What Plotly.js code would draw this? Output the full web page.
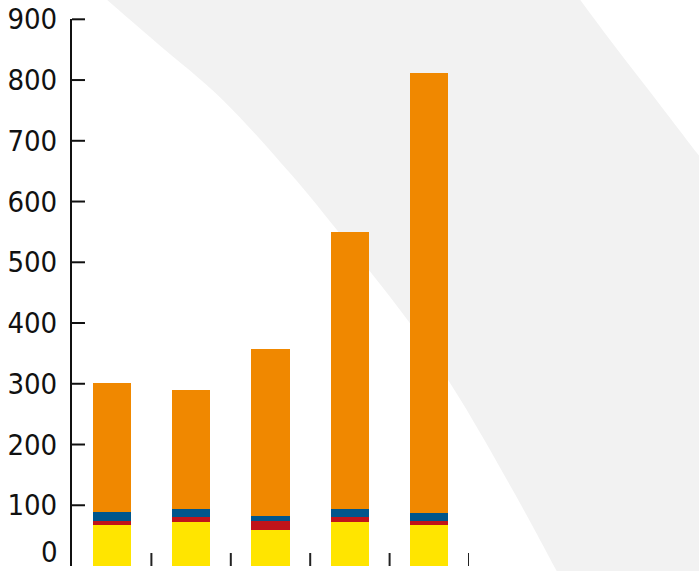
<!DOCTYPE html>
<html>
<head>
<meta charset="utf-8">
<script src="https://cdn.plot.ly/plotly-3.0.1.min.js"></script>
<style>html,body{margin:0;padding:0;background:#fff;}#chart{width:699px;height:571px;}</style>
</head>
<body>
<div id="chart"></div>
<script>
// ---- data ----
const categories = ['1', '2', '3', '4', '5'];
const yellowValues = [67, 73, 60, 73, 67];
const redValues    = [7, 8, 14, 8, 7];
const blueValues   = [15, 13, 8, 13, 14];
const orangeValues = [213, 195, 276, 456, 724];
const yTickValues  = [0, 100, 200, 300, 400, 500, 600, 700, 800, 900];
const yTickLabels  = ['', '100', '200', '300', '400', '500', '600', '700', '800', '900'];
const xBoundaryTicks = [0.5, 1.5, 2.5, 3.5, 4.5];
const zeroLabel = '0';

// ---- decorative background band (pixel outline, converted to paper coords) ----
const plotLeft = 72, plotRight = 469.5, plotTop = 19, plotBottom = 566.5;
const yMax = 900.5;
const bandLeftEdge = [[98,-8],[157,43],[223,100],[290,173],[345,240],[410,323],[461,400],[513,490],[557,571],[566,590]];
const bandRightEdge = [[575,-8],[613,43],[647,87],[680,130],[720,182]];
function toPaper(p) {
  return [(p[0]-plotLeft)/(plotRight-plotLeft), (plotBottom-p[1])/(plotBottom-plotTop)];
}
function smooth(pts) {
  let d = '';
  for (let i = 0; i < pts.length - 1; i++) {
    const p0 = pts[Math.max(i-1,0)], p1 = pts[i], p2 = pts[i+1], p3 = pts[Math.min(i+2, pts.length-1)];
    const c1 = [p1[0] + (p2[0]-p0[0])/6, p1[1] + (p2[1]-p0[1])/6];
    const c2 = [p2[0] - (p3[0]-p1[0])/6, p2[1] - (p3[1]-p1[1])/6];
    const a = toPaper(c1), b = toPaper(c2), c = toPaper(p2);
    d += ' C' + a.map(v=>v.toFixed(4)).join(',') + ' ' + b.map(v=>v.toFixed(4)).join(',') + ' ' + c.map(v=>v.toFixed(4)).join(',');
  }
  return d;
}
const pt = p => toPaper(p).map(v=>v.toFixed(4)).join(',');
const leftUp = bandLeftEdge.slice().reverse();
const bandPath = 'M' + pt(bandRightEdge[0]) + smooth(bandRightEdge) +
  ' L' + pt([760,600]) + ' L' + pt(leftUp[0]) + smooth(leftUp) + ' Z';

const font = 'DejaVu Sans Condensed, Liberation Sans Narrow, sans-serif';

const mk = (vals, color) => ({
  type: 'bar', x: categories, y: vals, marker: {color: color, line: {width: 0}},
  hoverinfo: 'skip', showlegend: false
});
const traces = [
  mk(yellowValues, '#FFE500'),
  mk(redValues, '#C0141A'),
  mk(blueValues, '#00568C'),
  mk(orangeValues, '#F08800')
];

const tickLenPaperX = 13 / (plotRight - plotLeft);
const tickLenPaperY = 13 / (plotBottom - plotTop);
const shapes = [{
  type: 'path', xref: 'paper', yref: 'paper', layer: 'below',
  path: bandPath, fillcolor: '#F2F2F2', line: {width: 0}
}];
yTickValues.slice(1).forEach(v => shapes.push({
  type: 'line', xref: 'paper', yref: 'paper', x0: 0, x1: tickLenPaperX, y0: v / yMax, y1: v / yMax,
  line: {color: '#111', width: 2}, layer: 'above'
}));
xBoundaryTicks.forEach(v => shapes.push({
  type: 'line', xref: 'x', yref: 'paper', x0: v, x1: v, y0: 0, y1: tickLenPaperY,
  line: {color: '#222', width: 2}, layer: 'above'
}));

const layout = {
  width: 699, height: 571,
  margin: {l: plotLeft, r: 699 - plotRight, t: plotTop, b: 571 - plotBottom, pad: 0},
  paper_bgcolor: '#ffffff',
  plot_bgcolor: 'rgba(0,0,0,0)',
  barmode: 'stack',
  bargap: 0.52,
  showlegend: false,
  xaxis: {
    type: 'category', range: [-0.5, 4.5],
    showticklabels: false, showgrid: false, zeroline: false, showline: false,
    ticks: ''
  },
  yaxis: {
    range: [0, yMax], showgrid: false, zeroline: false,
    showline: true, linecolor: '#111', linewidth: 2,
    ticks: '',
    tickmode: 'array', tickvals: yTickValues, ticktext: yTickLabels,
    ticklabelstandoff: 7,
    tickfont: {family: font, size: 29, color: '#111'}
  },
  shapes: shapes,
  annotations: [{
    xref: 'paper', yref: 'paper',
    x: (60 - plotLeft)/(plotRight-plotLeft), y: (plotBottom - 552)/(plotBottom-plotTop),
    xanchor: 'right', yanchor: 'middle', showarrow: false,
    text: zeroLabel, font: {family: font, size: 29, color: '#111'}
  }]
};

Plotly.newPlot('chart', traces, layout, {staticPlot: true, displayModeBar: false});
</script>
</body>
</html>
